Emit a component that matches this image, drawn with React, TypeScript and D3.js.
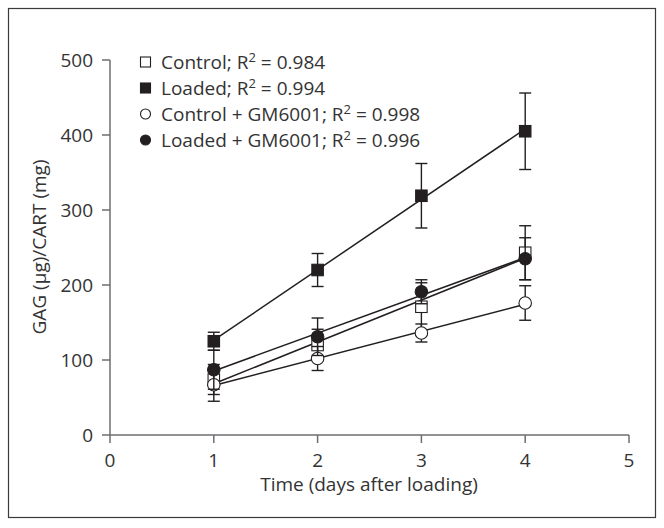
import React from "react";
import * as d3 from "d3";

const days = [1, 2, 3, 4];
const xTicks = [0, 1, 2, 3, 4, 5];
const yTicks = [0, 100, 200, 300, 400, 500];

const controlMean = [74, 120, 171, 243];
const controlErr = [20, 21, 32, 36];
const loadedMean = [125, 220, 319, 405];
const loadedErr = [12, 22, 43, 51];
const controlGMMean = [67, 102, 136, 176];
const controlGMErr = [22, 16, 12, 23];
const loadedGMMean = [87, 131, 191, 235];
const loadedGMErr = [26, 25, 16, 28];

const seriesNames = ["Control", "Loaded", "Control + GM6001", "Loaded + GM6001"];
const r2Values = ["0.984", "0.994", "0.998", "0.996"];

type Shape = "square" | "circle";
const series = [
  { name: seriesNames[0], r2: r2Values[0], mean: controlMean, err: controlErr, shape: "square" as Shape, filled: false },
  { name: seriesNames[1], r2: r2Values[1], mean: loadedMean, err: loadedErr, shape: "square" as Shape, filled: true },
  { name: seriesNames[2], r2: r2Values[2], mean: controlGMMean, err: controlGMErr, shape: "circle" as Shape, filled: false },
  { name: seriesNames[3], r2: r2Values[3], mean: loadedGMMean, err: loadedGMErr, shape: "circle" as Shape, filled: true },
];

const W = 664;
const H = 528;
const FONT = "'Open Sans', sans-serif";
const INK = "#231f20";
const AXIS = "#6d6e71";

function linFit(xs: number[], ys: number[]) {
  const mx = d3.mean(xs)!;
  const my = d3.mean(ys)!;
  const num = d3.sum(xs.map((x, i) => (x - mx) * (ys[i] - my)));
  const den = d3.sum(xs.map((x) => (x - mx) * (x - mx)));
  const b = num / den;
  const a = my - b * mx;
  return (x: number) => a + b * x;
}

function Marker({ shape, filled, cx, cy, size }: { shape: Shape; filled: boolean; cx: number; cy: number; size: number }) {
  const fill = filled ? INK : "#fff";
  if (shape === "square") {
    return <rect x={cx - size / 2} y={cy - size / 2} width={size} height={size} fill={fill} stroke={INK} strokeWidth={1.1} />;
  }
  return <circle cx={cx} cy={cy} r={size / 2} fill={fill} stroke={INK} strokeWidth={1.1} />;
}

export default function App() {
  const x = d3.scaleLinear().domain([0, 5]).range([110, 629]);
  const y = d3.scaleLinear().domain([0, 500]).range([435, 60]);

  const legendX = 145.5;
  const legendY0 = 62;
  const legendDy = 26;

  return (
    <svg width={W} height={H} style={{ position: "absolute", left: 0, top: 0, background: "#fff" }} fontFamily={FONT}>
      <rect x={8.5} y={8.5} width={647} height={509} fill="none" stroke="#3a3a3a" strokeWidth={1.2} />

      {/* axes */}
      <line x1={x(0)} x2={x(0)} y1={y(500)} y2={y(0)} stroke={AXIS} strokeWidth={1.5} />
      <line x1={x(0)} x2={x(5)} y1={y(0)} y2={y(0)} stroke={AXIS} strokeWidth={1.5} />
      {yTicks.map((t) => (
        <g key={"y" + t}>
          <line x1={x(0) - 8} x2={x(0)} y1={y(t)} y2={y(t)} stroke={AXIS} strokeWidth={1.5} />
          <text x={x(0) - 17} y={y(t) + 6.5} textAnchor="end" fontSize={19} fill="#333">
            {t}
          </text>
        </g>
      ))}
      {xTicks.map((t) => (
        <g key={"x" + t}>
          <line x1={x(t)} x2={x(t)} y1={y(0)} y2={y(0) + 8} stroke={AXIS} strokeWidth={1.5} />
          <text x={x(t)} y={467} textAnchor="middle" fontSize={19} fill="#333">
            {t}
          </text>
        </g>
      ))}
      <text x={369} y={491} textAnchor="middle" fontSize={19} fill="#333">
        Time (days after loading)
      </text>
      <text transform={`translate(46,247) rotate(-90)`} textAnchor="middle" fontSize={19} fill="#333">
        GAG (µg)/CART (mg)
      </text>

      {/* regression lines */}
      {series.map((s) => {
        const f = linFit(days, s.mean);
        const ends = [days[0], days[days.length - 1]];
        const path = d3
          .line<number>()
          .x((d) => x(d))
          .y((d) => y(f(d)))(ends);
        return <path key={"l" + s.name} d={path || ""} fill="none" stroke={INK} strokeWidth={1.5} />;
      })}

      {/* error bars and markers */}
      {series.map((s) => (
        <g key={"s" + s.name}>
          {days.map((d, i) => {
            const cx = x(d);
            const top = y(s.mean[i] + s.err[i]);
            const bot = y(s.mean[i] - s.err[i]);
            return (
              <g key={i}>
                <line x1={cx} x2={cx} y1={top} y2={bot} stroke={INK} strokeWidth={1.4} />
                <line x1={cx - 6} x2={cx + 6} y1={top} y2={top} stroke={INK} strokeWidth={1.4} />
                <line x1={cx - 6} x2={cx + 6} y1={bot} y2={bot} stroke={INK} strokeWidth={1.4} />
              </g>
            );
          })}
          {days.map((d, i) => (
            <Marker key={"m" + i} shape={s.shape} filled={s.filled} cx={x(d)} cy={y(s.mean[i])} size={s.shape === "square" ? 11.5 : 12.5} />
          ))}
        </g>
      ))}

      {/* legend */}
      {series.map((s, i) => {
        const cy = legendY0 + i * legendDy;
        return (
          <g key={"lg" + s.name}>
            <Marker shape={s.shape} filled={s.filled} cx={legendX} cy={cy} size={10} />
            <text x={161} y={cy + 6.5} fontSize={19} fill="#333">
              {s.name}; R
              <tspan fontSize={13} dy={-7}>2</tspan>
              <tspan dy={7}> = {s.r2}</tspan>
            </text>
          </g>
        );
      })}
    </svg>
  );
}
